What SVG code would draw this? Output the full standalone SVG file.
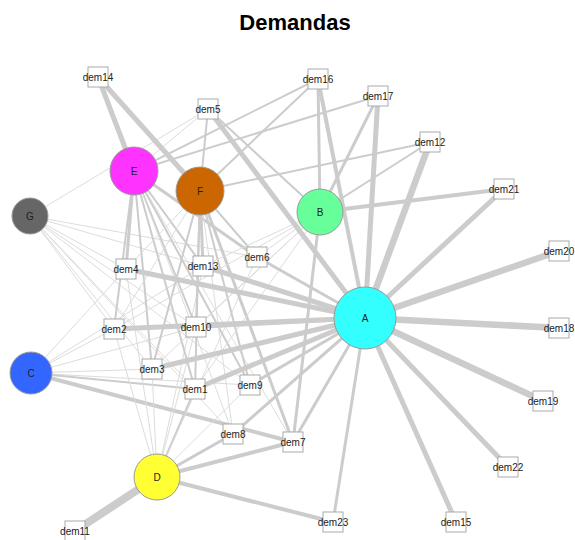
<svg xmlns="http://www.w3.org/2000/svg" width="575" height="540" viewBox="0 0 575 540">
<style>
.e{stroke:#cccccc;fill:none;stroke-linecap:butt}
.w1{stroke:#dcdcdc;stroke-width:1}
.w2{stroke-width:2}
.w3{stroke-width:3}
.w4{stroke-width:4}
.w5{stroke-width:5}
.w6{stroke-width:6.5}
.w7{stroke-width:8}
.g circle{stroke:#999999;stroke-width:1}
.d rect{fill:#ffffff;stroke:#aaaaaa;stroke-width:1}
text{font-family:"Liberation Sans",Arial,sans-serif;font-size:10px;fill:#222222;text-anchor:middle}
.title{font-size:22px;font-weight:bold;fill:#000000}
</style>
<rect width="575" height="540" fill="#ffffff"/>
<text class="title" x="295" y="30">Demandas</text>
<g id="connectors">
<!-- G -->
<line class="e w1" x1="30" y1="216" x2="208" y2="109"/>
<line class="e w1" x1="30" y1="216" x2="126" y2="269"/>
<line class="e w1" x1="30" y1="216" x2="203" y2="266"/>
<line class="e w1" x1="30" y1="216" x2="257" y2="257"/>
<line class="e w1" x1="30" y1="216" x2="114" y2="329"/>
<line class="e w1" x1="30" y1="216" x2="196" y2="327"/>
<line class="e w1" x1="30" y1="216" x2="152" y2="369"/>
<line class="e w1" x1="30" y1="216" x2="195" y2="389"/>
<line class="e w1" x1="30" y1="216" x2="250" y2="385"/>
<line class="e w1" x1="30" y1="216" x2="233" y2="434"/>
<!-- C -->
<line class="e w1" x1="31" y1="373" x2="126" y2="269"/>
<line class="e w1" x1="31" y1="373" x2="114" y2="329"/>
<line class="e w1" x1="31" y1="373" x2="203" y2="266"/>
<line class="e w1" x1="31" y1="373" x2="196" y2="327"/>
<line class="e w1" x1="31" y1="373" x2="152" y2="369"/>
<line class="e w1" x1="31" y1="373" x2="250" y2="385"/>
<line class="e w2" x1="31" y1="373" x2="195" y2="389"/>
<line class="e w4" x1="31" y1="373" x2="293" y2="442"/>
<!-- D -->
<line class="e w7" x1="157" y1="477" x2="75" y2="531"/>
<line class="e w4" x1="157" y1="477" x2="333" y2="522"/>
<line class="e w4" x1="157" y1="477" x2="293" y2="442"/>
<line class="e w3" x1="157" y1="477" x2="233" y2="434"/>
<line class="e w1" x1="157" y1="477" x2="126" y2="269"/>
<line class="e w1" x1="157" y1="477" x2="114" y2="329"/>
<line class="e w1" x1="157" y1="477" x2="152" y2="369"/>
<line class="e w2" x1="157" y1="477" x2="195" y2="389"/>
<line class="e w1" x1="157" y1="477" x2="196" y2="327"/>
<line class="e w1" x1="157" y1="477" x2="203" y2="266"/>
<line class="e w1" x1="157" y1="477" x2="257" y2="257"/>
<line class="e w1" x1="157" y1="477" x2="250" y2="385"/>
<!-- E -->
<line class="e w5" x1="134" y1="171" x2="98" y2="77"/>
<line class="e w1" x1="134" y1="171" x2="208" y2="109"/>
<line class="e w2" x1="134" y1="171" x2="318" y2="79"/>
<line class="e w2" x1="134" y1="171" x2="378" y2="96"/>
<line class="e w3" x1="134" y1="171" x2="126" y2="269"/>
<line class="e w2" x1="134" y1="171" x2="203" y2="266"/>
<line class="e w3" x1="134" y1="171" x2="257" y2="257"/>
<line class="e w2" x1="134" y1="171" x2="196" y2="327"/>
<line class="e w2" x1="134" y1="171" x2="114" y2="329"/>
<line class="e w2" x1="134" y1="171" x2="152" y2="369"/>
<line class="e w2" x1="134" y1="171" x2="195" y2="389"/>
<line class="e w2" x1="134" y1="171" x2="250" y2="385"/>
<line class="e w1" x1="134" y1="171" x2="233" y2="434"/>
<line class="e w1" x1="134" y1="171" x2="293" y2="442"/>
<!-- F -->
<line class="e w5" x1="200" y1="191" x2="98" y2="77"/>
<line class="e w2" x1="200" y1="191" x2="208" y2="109"/>
<line class="e w2" x1="200" y1="191" x2="318" y2="79"/>
<line class="e w2" x1="200" y1="191" x2="430" y2="142"/>
<line class="e w3" x1="200" y1="191" x2="203" y2="266"/>
<line class="e w1" x1="200" y1="191" x2="126" y2="269"/>
<line class="e w2" x1="200" y1="191" x2="196" y2="327"/>
<line class="e w1" x1="200" y1="191" x2="114" y2="329"/>
<line class="e w2" x1="200" y1="191" x2="152" y2="369"/>
<line class="e w2" x1="200" y1="191" x2="195" y2="389"/>
<line class="e w2" x1="200" y1="191" x2="250" y2="385"/>
<line class="e w3" x1="200" y1="191" x2="293" y2="442"/>
<line class="e w1" x1="200" y1="191" x2="233" y2="434"/>
<line class="e w2" x1="200" y1="191" x2="257" y2="257"/>
<!-- B -->
<line class="e w3" x1="320" y1="212" x2="318" y2="79"/>
<line class="e w3" x1="320" y1="212" x2="378" y2="96"/>
<line class="e w2" x1="320" y1="212" x2="430" y2="142"/>
<line class="e w4" x1="320" y1="212" x2="504" y2="189"/>
<line class="e w2" x1="320" y1="212" x2="208" y2="109"/>
<line class="e w3" x1="320" y1="212" x2="293" y2="442"/>
<line class="e w1" x1="320" y1="212" x2="203" y2="266"/>
<line class="e w1" x1="320" y1="212" x2="196" y2="327"/>
<line class="e w1" x1="320" y1="212" x2="257" y2="257"/>
<line class="e w1" x1="320" y1="212" x2="152" y2="369"/>
<line class="e w1" x1="320" y1="212" x2="195" y2="389"/>
<line class="e w1" x1="320" y1="212" x2="114" y2="329"/>
<!-- A -->
<line class="e w6" x1="365" y1="318" x2="559" y2="251"/>
<line class="e w6" x1="365" y1="318" x2="559" y2="328"/>
<line class="e w6" x1="365" y1="318" x2="543" y2="401"/>
<line class="e w5" x1="365" y1="318" x2="508" y2="467"/>
<line class="e w5" x1="365" y1="318" x2="456" y2="522"/>
<line class="e w3" x1="365" y1="318" x2="333" y2="522"/>
<line class="e w5" x1="365" y1="318" x2="504" y2="189"/>
<line class="e w6" x1="365" y1="318" x2="430" y2="142"/>
<line class="e w5" x1="365" y1="318" x2="378" y2="96"/>
<line class="e w4" x1="365" y1="318" x2="318" y2="79"/>
<line class="e w5" x1="365" y1="318" x2="208" y2="109"/>
<line class="e w3" x1="365" y1="318" x2="257" y2="257"/>
<line class="e w5" x1="365" y1="318" x2="203" y2="266"/>
<line class="e w5" x1="365" y1="318" x2="126" y2="269"/>
<line class="e w5" x1="365" y1="318" x2="114" y2="329"/>
<line class="e w4" x1="365" y1="318" x2="196" y2="327"/>
<line class="e w5" x1="365" y1="318" x2="152" y2="369"/>
<line class="e w5" x1="365" y1="318" x2="195" y2="389"/>
<line class="e w3" x1="365" y1="318" x2="250" y2="385"/>
<line class="e w3" x1="365" y1="318" x2="233" y2="434"/>
<line class="e w3" x1="365" y1="318" x2="293" y2="442"/>
</g>
<g id="dem1" class="d"><rect x="185" y="379" width="20" height="20"/><text x="195" y="393">dem1</text></g>
<g id="dem2" class="d"><rect x="104" y="319" width="20" height="20"/><text x="114" y="333">dem2</text></g>
<g id="dem3" class="d"><rect x="142" y="359" width="20" height="20"/><text x="152" y="373">dem3</text></g>
<g id="dem4" class="d"><rect x="116" y="259" width="20" height="20"/><text x="126" y="273">dem4</text></g>
<g id="dem5" class="d"><rect x="198" y="99" width="20" height="20"/><text x="208" y="113">dem5</text></g>
<g id="dem6" class="d"><rect x="247" y="247" width="20" height="20"/><text x="257" y="261">dem6</text></g>
<g id="dem7" class="d"><rect x="283" y="432" width="20" height="20"/><text x="293" y="446">dem7</text></g>
<g id="dem8" class="d"><rect x="223" y="424" width="20" height="20"/><text x="233" y="438">dem8</text></g>
<g id="dem9" class="d"><rect x="240" y="375" width="20" height="20"/><text x="250" y="389">dem9</text></g>
<g id="dem10" class="d"><rect x="186" y="317" width="20" height="20"/><text x="196" y="331">dem10</text></g>
<g id="dem11" class="d"><rect x="65" y="521" width="20" height="20"/><text x="75" y="535">dem11</text></g>
<g id="dem12" class="d"><rect x="420" y="132" width="20" height="20"/><text x="430" y="146">dem12</text></g>
<g id="dem13" class="d"><rect x="193" y="256" width="20" height="20"/><text x="203" y="270">dem13</text></g>
<g id="dem14" class="d"><rect x="88" y="67" width="20" height="20"/><text x="98" y="81">dem14</text></g>
<g id="dem15" class="d"><rect x="446" y="512" width="20" height="20"/><text x="456" y="526">dem15</text></g>
<g id="dem16" class="d"><rect x="308" y="69" width="20" height="20"/><text x="318" y="83">dem16</text></g>
<g id="dem17" class="d"><rect x="368" y="86" width="20" height="20"/><text x="378" y="100">dem17</text></g>
<g id="dem18" class="d"><rect x="549" y="318" width="20" height="20"/><text x="559" y="332">dem18</text></g>
<g id="dem19" class="d"><rect x="533" y="391" width="20" height="20"/><text x="543" y="405">dem19</text></g>
<g id="dem20" class="d"><rect x="549" y="241" width="20" height="20"/><text x="559" y="255">dem20</text></g>
<g id="dem21" class="d"><rect x="494" y="179" width="20" height="20"/><text x="504" y="193">dem21</text></g>
<g id="dem22" class="d"><rect x="498" y="457" width="20" height="20"/><text x="508" y="471">dem22</text></g>
<g id="dem23" class="d"><rect x="323" y="512" width="20" height="20"/><text x="333" y="526">dem23</text></g>
<g id="A" class="g"><circle cx="365" cy="318" r="31" fill="#33ffff"/><text x="365" y="322">A</text></g>
<g id="B" class="g"><circle cx="320" cy="212" r="23" fill="#66ff99"/><text x="320" y="216">B</text></g>
<g id="C" class="g"><circle cx="31" cy="373" r="21" fill="#3366ff"/><text x="31" y="377">C</text></g>
<g id="D" class="g"><circle cx="157" cy="477" r="23" fill="#ffff33"/><text x="157" y="481">D</text></g>
<g id="E" class="g"><circle cx="134" cy="171" r="24" fill="#ff33ff"/><text x="134" y="175">E</text></g>
<g id="F" class="g"><circle cx="200" cy="191" r="24" fill="#cc6600"/><text x="200" y="195">F</text></g>
<g id="G" class="g"><circle cx="30" cy="216" r="18" fill="#666666"/><text x="30" y="220">G</text></g>
</svg>
